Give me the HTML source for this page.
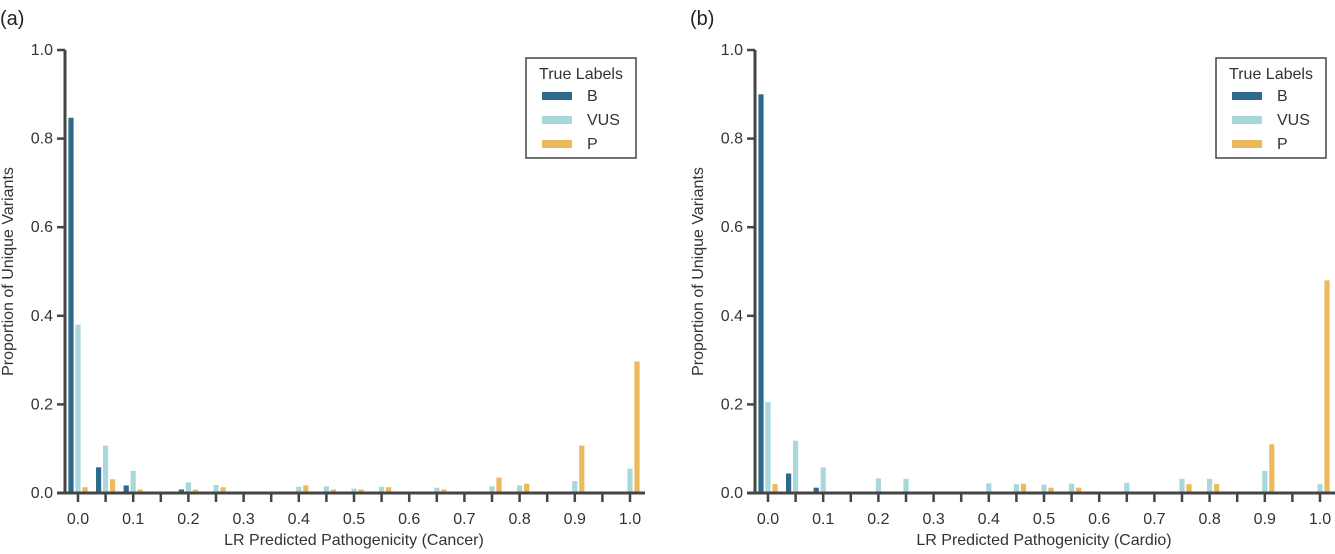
<!DOCTYPE html>
<html><head><meta charset="utf-8"><style>
body{margin:0;background:#fff;}
svg{font-family:"Liberation Sans",sans-serif;}
</style></head><body>
<svg id="s" width="1335" height="549" viewBox="0 0 1335 549"></svg>
<script>
const binLabels=["0.0","0.05","0.1","0.15","0.2","0.25","0.3","0.35","0.4","0.45","0.5","0.55","0.6","0.65","0.7","0.75","0.8","0.85","0.9","0.95","1.0"];
const tickLabels=["0.0","0.1","0.2","0.3","0.4","0.5","0.6","0.7","0.8","0.9","1.0"];
const yTicks=[0,0.2,0.4,0.6,0.8,1.0];
const cancerB=[0.847,0.058,0.017,0,0.008,0.002,0,0,0,0,0,0,0,0,0,0,0,0,0,0,0];
const cancerVUS=[0.38,0.107,0.05,0,0.024,0.018,0,0,0.014,0.015,0.01,0.014,0,0.012,0,0.015,0.017,0,0.027,0,0.055];
const cancerP=[0.013,0.031,0.008,0,0.008,0.013,0,0,0.017,0.008,0.008,0.013,0,0.008,0,0.035,0.021,0,0.107,0,0.297];
const cardioB=[0.90,0.044,0.012,0,0,0,0,0,0,0,0,0,0,0,0,0,0,0,0,0,0];
const cardioVUS=[0.205,0.118,0.058,0,0.033,0.032,0,0,0.022,0.02,0.019,0.021,0,0.023,0,0.032,0.032,0,0.05,0,0.02];
const cardioP=[0.02,0.003,0,0,0.003,0,0,0,0,0.021,0.012,0.012,0,0,0,0.02,0.02,0,0.11,0,0.48];
const colors=["#2f6a8d","#a9d8dc","#ecba5c"];
const names=["B","VUS","P"];
const svg=document.getElementById('s');
const NS="http://www.w3.org/2000/svg";
function mk(t,a,p){const e=document.createElementNS(NS,t);for(const k in a)e.setAttribute(k,a[k]);(p||svg).appendChild(e);return e;}
function panel(ox,letter,xtitle,series,pname){
  const g=mk('g',{});
  
  
  const y0=493,yTop=50,x0=ox+13,x1=ox+565;
  const ys=v=>y0-v*(y0-yTop);
  const xs=i=>x0+i*(x1-x0)/(binLabels.length-1);
  const lt=mk('text',{x:ox-65,y:25,'font-size':20,fill:'#222'},g);lt.textContent=letter;
  
  series.forEach((arr,si)=>{arr.forEach((v,i)=>{if(v<=0)return;
    const r=mk('rect',{x:xs(i)+(si-1)*7-2.6,y:ys(v),width:5.2,height:y0-ys(v),fill:colors[si]},g);
    
    });});
  const xa=mk('line',{x1:ox-8,x2:x1+15+(ox>600?10:0),y1:y0,y2:y0,stroke:'#444','stroke-width':3},g);
  
  const ya=mk('line',{x1:ox,x2:ox,y1:yTop,y2:y0+1.5,stroke:'#444','stroke-width':3},g);
  
  binLabels.forEach((b,i)=>{mk('line',{x1:xs(i),x2:xs(i),y1:y0,y2:y0+9,stroke:'#444','stroke-width':2.5},g);});
  tickLabels.forEach((t,i)=>{const tx=mk('text',{x:xs(i*2),y:y0+31,'font-size':16,'text-anchor':'middle',fill:'#333'},g);tx.textContent=t;
    });
  yTicks.forEach(v=>{mk('line',{x1:ox-8,x2:ox,y1:ys(v),y2:ys(v),stroke:'#444','stroke-width':2.5},g);
    const tx=mk('text',{x:ox-12,y:ys(v)+5,'font-size':16,'text-anchor':'end',fill:'#333'},g);tx.textContent=v.toFixed(1);
    });
  const xt=mk('text',{x:(x0+x1)/2,y:y0+52,'font-size':16,'text-anchor':'middle',fill:'#333'},g);xt.textContent=xtitle;
  
  const yt=mk('text',{x:0,y:0,'font-size':16,'text-anchor':'middle',fill:'#333',transform:`translate(${ox-52},${(y0+yTop)/2}) rotate(-90)`},g);yt.textContent='Proportion of Unique Variants';
  
  const lg=mk('g',{},g);
  
  mk('rect',{x:ox+461,y:58,width:110,height:100,fill:'#fff',stroke:'#444','stroke-width':1.5},lg);
  const tt=mk('text',{x:ox+516,y:79,'font-size':16,'text-anchor':'middle',fill:'#333'},lg);tt.textContent='True Labels';
  names.forEach((n,i)=>{mk('rect',{x:ox+477,y:92+i*24,width:30,height:8,fill:colors[i]},lg);
    const t=mk('text',{x:ox+522,y:101+i*24,'font-size':16,fill:'#333'},lg);t.textContent=n;
    });
}
panel(65,'(a)','LR Predicted Pathogenicity (Cancer)',[cancerB,cancerVUS,cancerP],'panel-cancer');
panel(755,'(b)','LR Predicted Pathogenicity (Cardio)',[cardioB,cardioVUS,cardioP],'panel-cardio');
</script>
</body></html>
